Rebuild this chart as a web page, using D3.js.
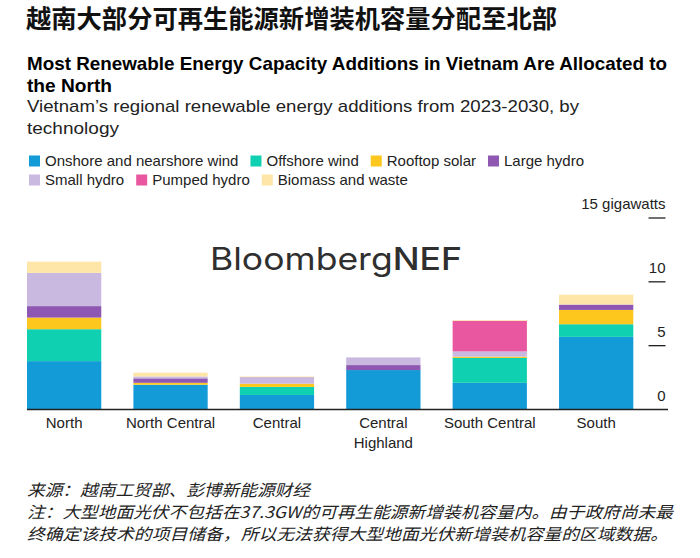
<!DOCTYPE html>
<html>
<head>
<meta charset="utf-8">
<script src="https://cdn.jsdelivr.net/npm/d3@7"></script>
<style>
  html, body { margin: 0; padding: 0; background: #ffffff; }
  svg { display: block; }
</style>
</head>
<body>
<svg id="chart" width="700" height="558"></svg>
<script>
// ---------------- DATA ----------------
const categories = ["North", "North Central", "Central", "Central Highland", "South Central", "South"];
const seriesNames = ["Onshore and nearshore wind", "Offshore wind", "Rooftop solar", "Large hydro", "Small hydro", "Pumped hydro", "Biomass and waste"];
const onshoreWind = [3.75, 1.9, 1.1, 3.05, 2.05, 5.65];
const offshoreWind = [2.5, 0, 0.63, 0, 1.95, 0.99];
const rooftopSolar = [0.91, 0.15, 0.25, 0, 0.1, 1.12];
const largeHydro = [0.9, 0.35, 0, 0.39, 0, 0.42];
const smallHydro = [2.6, 0.15, 0.52, 0.6, 0.41, 0];
const pumpedHydro = [0, 0, 0, 0, 2.4, 0];
const biomassWaste = [0.88, 0.3, 0.05, 0, 0.05, 0.78];
const tickValues = [0, 5, 10, 15];
const tickLabels = ["0", "5", "10", "15 gigawatts"];

const colors = ["#139bd8", "#0fd0b0", "#fdc71e", "#8e58b2", "#c9b8e0", "#e8579f", "#fde6a8"];

// ---------------- BUILD ----------------
const seriesValues = [onshoreWind, offshoreWind, rooftopSolar, largeHydro, smallHydro, pumpedHydro, biomassWaste];
const table = categories.map((c, i) => {
  const row = { category: c };
  seriesNames.forEach((s, j) => row[s] = seriesValues[j][i]);
  return row;
});
const stack = d3.stack().keys(seriesNames)(table);

const svg = d3.select("#chart");
const FONT = "'Liberation Sans', Arial, sans-serif";
const CJK = "'Noto Sans CJK SC', sans-serif";

// Titles
svg.append("text").attr("x", 26).attr("y", 28)
  .attr("font-family", CJK).attr("font-weight", 700).attr("font-size", 25)
  .attr("fill", "#111").attr("textLength", 531).attr("lengthAdjust", "spacingAndGlyphs")
  .text("越南大部分可再生能源新增装机容量分配至北部");

svg.append("text").attr("x", 27).attr("y", 70)
  .attr("font-family", FONT).attr("font-weight", 700).attr("font-size", 18.5)
  .attr("fill", "#000").attr("textLength", 640).attr("lengthAdjust", "spacingAndGlyphs")
  .text("Most Renewable Energy Capacity Additions in Vietnam Are Allocated to");
svg.append("text").attr("x", 27).attr("y", 92)
  .attr("font-family", FONT).attr("font-weight", 700).attr("font-size", 18.5)
  .attr("fill", "#000").attr("textLength", 85).attr("lengthAdjust", "spacingAndGlyphs")
  .text("the North");

svg.append("text").attr("x", 27).attr("y", 112)
  .attr("font-family", FONT).attr("font-size", 17)
  .attr("fill", "#222").attr("textLength", 552).attr("lengthAdjust", "spacingAndGlyphs")
  .text("Vietnam\u2019s regional renewable energy additions from 2023-2030, by");
svg.append("text").attr("x", 27).attr("y", 134)
  .attr("font-family", FONT).attr("font-size", 17)
  .attr("fill", "#222").attr("textLength", 92).attr("lengthAdjust", "spacingAndGlyphs")
  .text("technology");

// Legend
const legendRows = [[0, 1, 2, 3], [4, 5, 6]];
const legendY = [161, 180];
legendRows.forEach((row, ri) => {
  let x = 29;
  row.forEach(k => {
    const g = svg.append("g");
    g.append("rect").attr("x", x).attr("y", legendY[ri] - 5.5).attr("width", 11).attr("height", 11)
      .attr("fill", colors[k]);
    const t = g.append("text").attr("x", x + 16).attr("y", legendY[ri] + 5)
      .attr("font-family", FONT).attr("font-size", 15).attr("fill", "#222")
      .text(seriesNames[k]);
    x += 16 + t.node().getComputedTextLength() + 12;
  });
});

// Scales
const x = d3.scaleBand().domain(categories).range([27, 633.3]).paddingInner(0.302).paddingOuter(0);
const y = d3.scaleLinear().domain([0, 15]).range([409, 217.5]);

// Watermark
const wm = svg.append("text").attr("x", 210).attr("y", 270)
  .attr("font-family", "Inter, 'Liberation Sans', sans-serif").attr("font-size", 31).attr("fill", "#2f2f2f")
  .attr("font-weight", 400)
  .attr("textLength", 252).attr("lengthAdjust", "spacingAndGlyphs");
wm.append("tspan").text("Bloomberg");
wm.append("tspan").attr("font-weight", 500).text("NEF");

// Bars
svg.append("g").selectAll("g").data(stack).join("g")
  .attr("fill", (d, i) => colors[i])
  .selectAll("rect").data(d => d).join("rect")
  .attr("x", d => x(d.data.category))
  .attr("width", x.bandwidth())
  .attr("y", d => y(d[1]))
  .attr("height", d => Math.max(0, y(d[0]) - y(d[1])));

// Y axis (right)
const yAxis = d3.axisLeft(y).tickValues(tickValues).tickSize(17)
  .tickFormat((d, i) => tickLabels[i]);
const ag = svg.append("g").attr("transform", "translate(665.5,0)").call(yAxis);
ag.select(".domain").remove();
ag.selectAll(".tick line").attr("stroke", "#222").attr("stroke-width", 1.3)
  .attr("opacity", d => d === 0 ? 0 : 1);
ag.selectAll(".tick text").attr("x", 0).attr("dy", -9).attr("text-anchor", "end")
  .attr("font-family", FONT).attr("font-size", 15).attr("fill", "#222");

// Baseline
svg.append("line").attr("x1", 27).attr("x2", 668).attr("y1", 409.5).attr("y2", 409.5)
  .attr("stroke", "#222").attr("stroke-width", 1.5);

// X axis labels
const xAxis = d3.axisBottom(x).tickSize(0).tickPadding(0);
const xg = svg.append("g").attr("transform", "translate(0,409)").call(xAxis);
xg.select(".domain").remove();
xg.selectAll(".tick text").each(function(d) {
  const t = d3.select(this);
  t.text(null).attr("font-family", FONT).attr("font-size", 15).attr("fill", "#222").attr("dy", 0).attr("y", 0);
  const words = d === "Central Highland" ? ["Central", "Highland"] : [d];
  words.forEach((w, i) => t.append("tspan").attr("x", 0).attr("y", 19 + i * 19.5).text(w));
});

// Source & note
const notes = [
  ["来源：越南工贸部、彭博新能源财经", 496, 283],
  ["注：大型地面光伏不包括在37.3GW的可再生能源新增装机容量内。由于政府尚未最", 518, 646],
  ["终确定该技术的项目储备，所以无法获得大型地面光伏新增装机容量的区域数据。", 540, 641]
];
notes.forEach(([t, yy, w]) => {
  svg.append("text").attr("x", 27).attr("y", yy)
    .attr("font-family", CJK).attr("font-size", 16).attr("font-style", "italic")
    .attr("fill", "#222").attr("textLength", w).attr("lengthAdjust", "spacingAndGlyphs").text(t);
});
</script>
</body>
</html>
